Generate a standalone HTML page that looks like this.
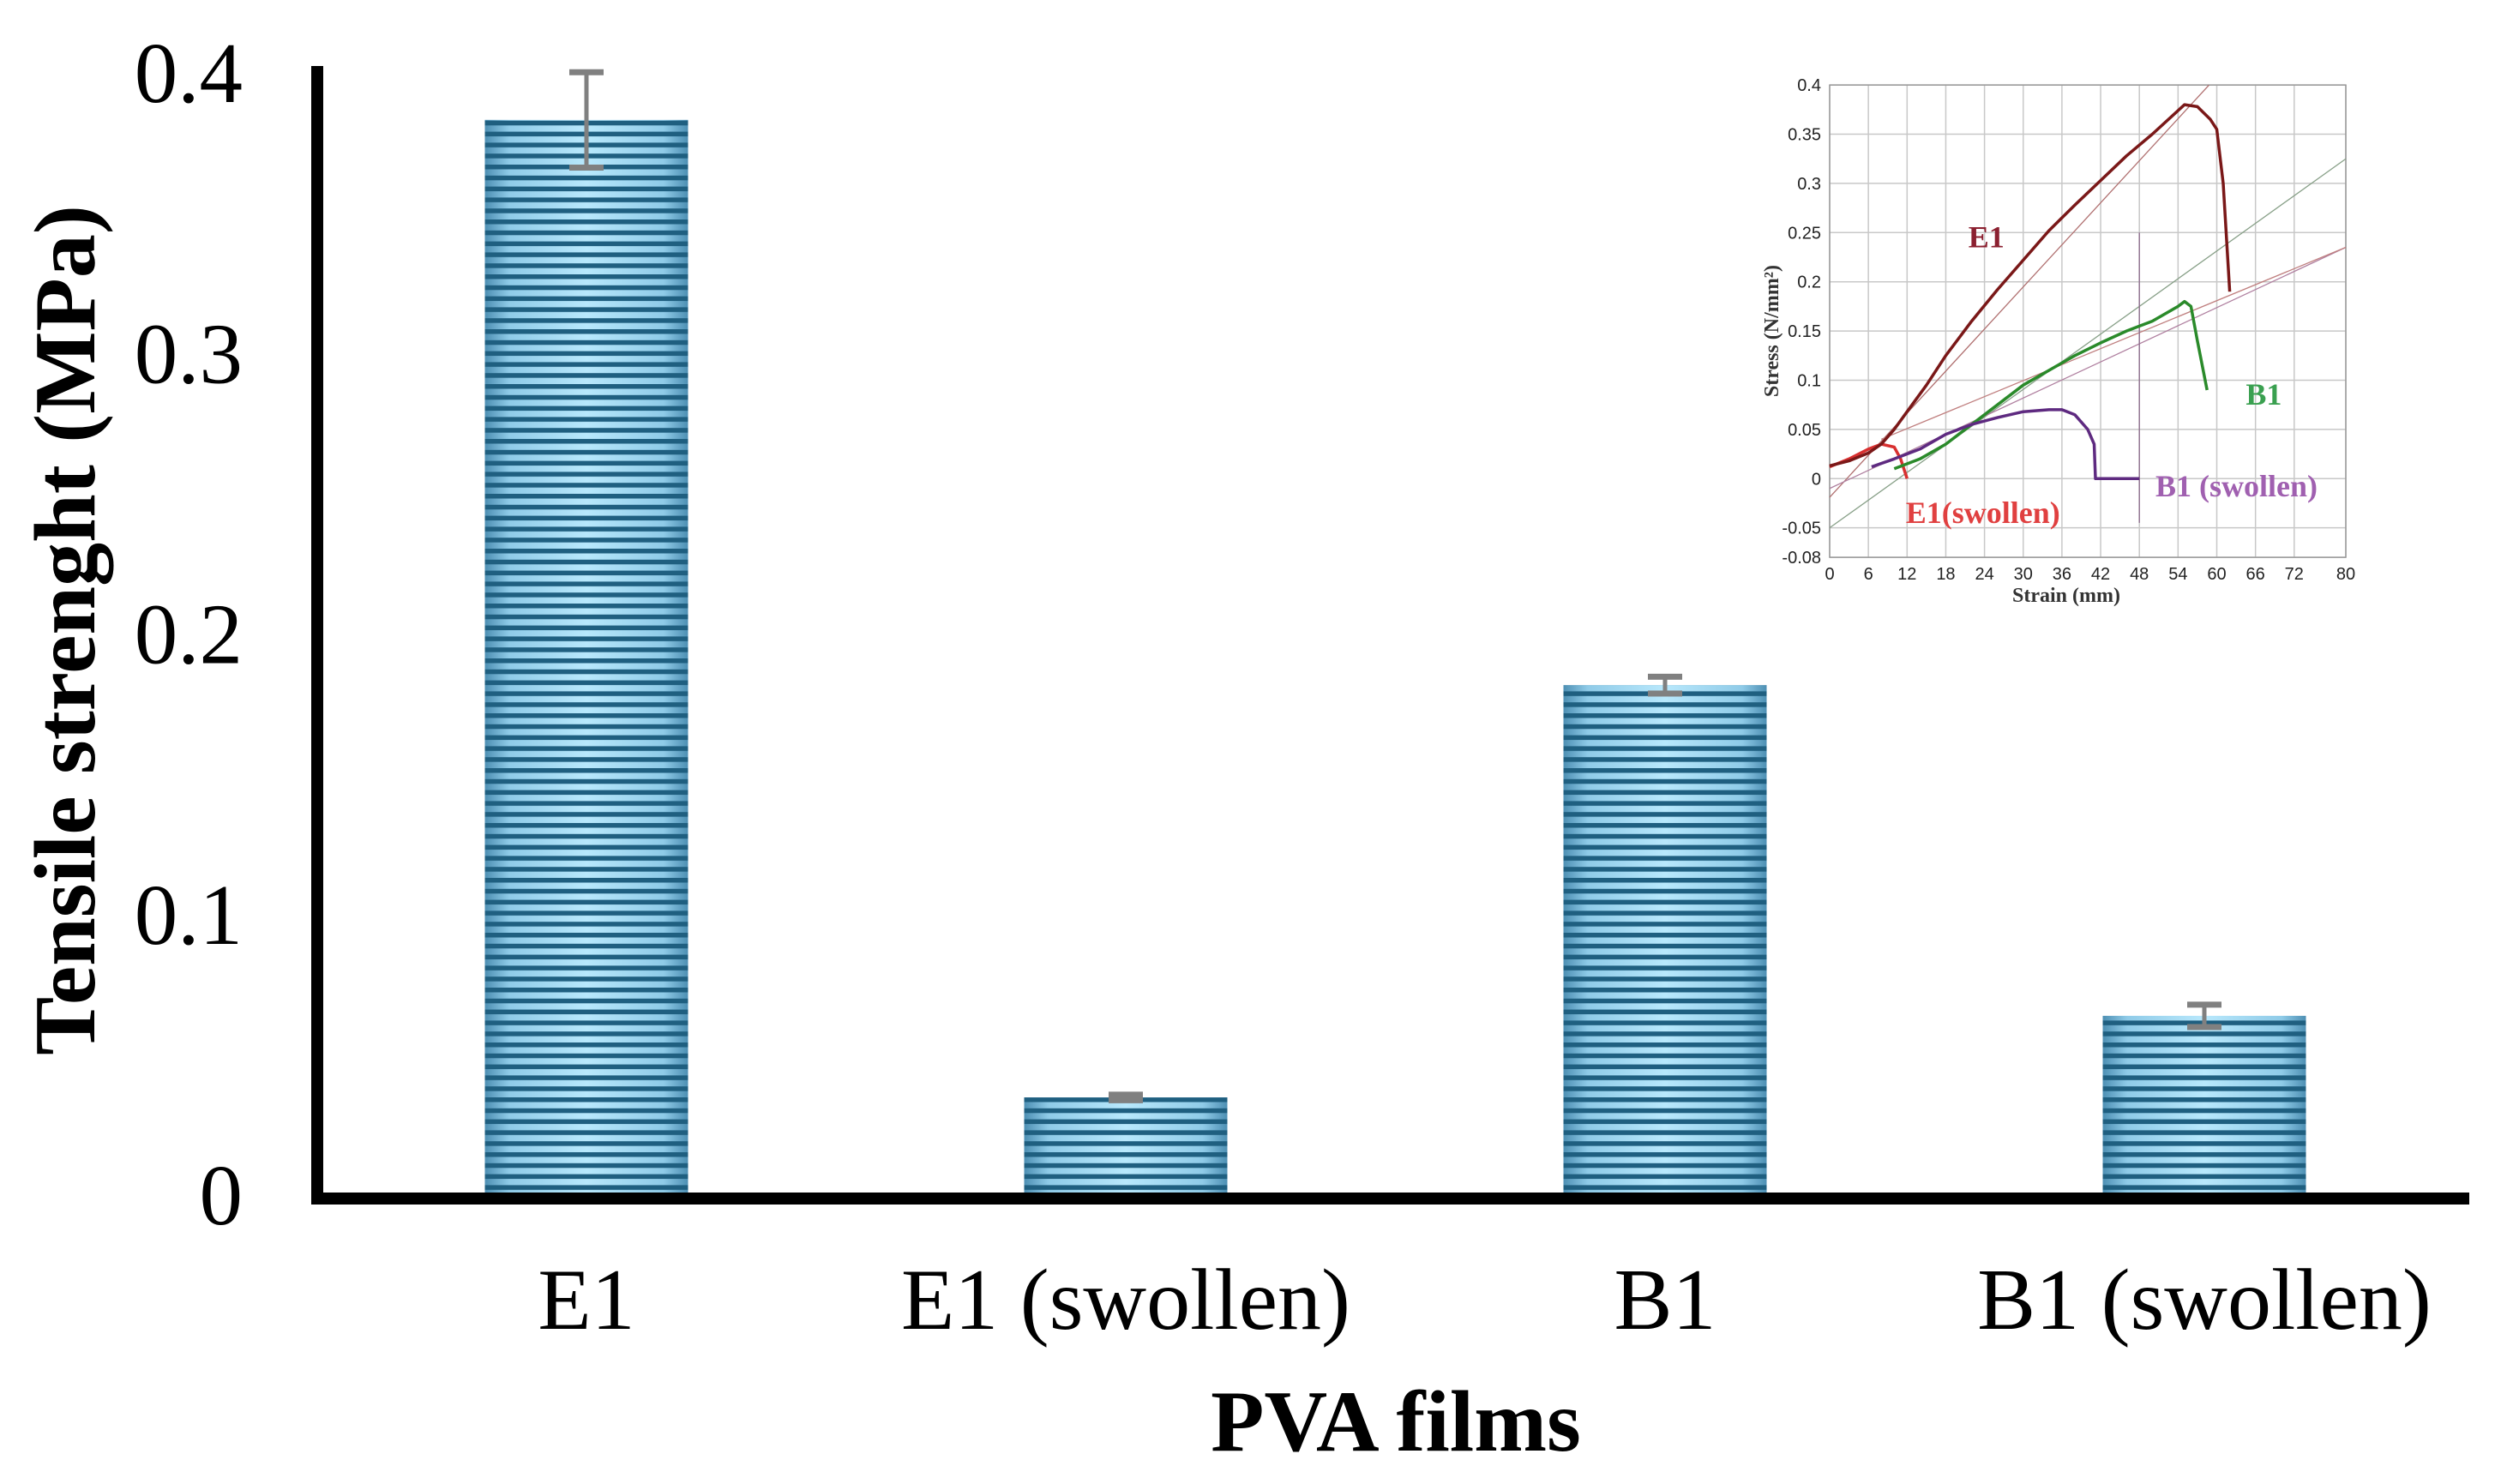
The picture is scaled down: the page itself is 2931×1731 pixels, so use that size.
<!DOCTYPE html>
<html><head><meta charset="utf-8"><style>
html,body{margin:0;padding:0;background:#fff;}
svg{display:block;}
</style></head><body>
<svg id="chart" width="2931" height="1731" viewBox="0 0 2931 1731" xmlns="http://www.w3.org/2000/svg">
<defs>
<linearGradient id="barGrad" x1="0" y1="0" x2="1" y2="0">
<stop offset="0" stop-color="#4d8fb3"/><stop offset="0.12" stop-color="#8fcbe8"/>
<stop offset="0.5" stop-color="#b8e8fc"/><stop offset="0.88" stop-color="#8fcbe8"/><stop offset="1" stop-color="#4d8fb3"/>
</linearGradient>
<pattern id="stripes" patternUnits="userSpaceOnUse" width="20" height="12.8" y="0">
<rect x="0" y="0" width="20" height="5.5" fill="#1f5f80"/>
</pattern>
</defs>
<g id="main"></g>
<g id="inset"></g>
</svg>
<script>
const categories = ["E1", "E1 (swollen)", "B1", "B1 (swollen)"];
const values = [0.383, 0.0345, 0.1815, 0.0636];
const errors = [0.017, 0.001, 0.003, 0.004];
const yTicks = [0, 0.1, 0.2, 0.3, 0.4];
const yTickLabels = ["0", "0.1", "0.2", "0.3", "0.4"];

const insetXTicks = [0,6,12,18,24,30,36,42,48,54,60,66,72,80];
const insetYTicks = [0.4,0.35,0.3,0.25,0.2,0.15,0.1,0.05,0,-0.05,-0.08];
const insetYTickLabels = ["0.4","0.35","0.3","0.25","0.2","0.15","0.1","0.05","0","-0.05","-0.08"];
const e1Strain = [0,3,6,8,10,12,15,18,22,26,30,34,38,42,46,50,54,55,57,59,60,61,62];
const e1Stress = [0.013,0.018,0.026,0.035,0.05,0.068,0.095,0.125,0.16,0.192,0.222,0.252,0.278,0.303,0.328,0.35,0.374,0.38,0.378,0.365,0.355,0.3,0.19];
const e1sStrain = [0,3,6,8,10,11,12];
const e1sStress = [0.012,0.02,0.03,0.035,0.032,0.02,0.0];
const b1Strain = [10,14,18,22,26,30,34,38,42,46,50,54,55,56,57,58.5];
const b1Stress = [0.01,0.02,0.035,0.055,0.075,0.095,0.11,0.125,0.138,0.15,0.16,0.175,0.18,0.175,0.14,0.09];
const b1sStrain = [6.5,10,14,18,22,26,30,34,36,38,40,41,41.2,48];
const b1sStress = [0.012,0.02,0.03,0.045,0.055,0.062,0.068,0.07,0.07,0.065,0.05,0.035,0,0];

const NS = "http://www.w3.org/2000/svg";
function mk(tag, attrs, parent, text){const e=document.createElementNS(NS,tag);for(const k in attrs)e.setAttribute(k,attrs[k]);if(text!==undefined)e.textContent=text;parent.appendChild(e);return e;}

const main = document.getElementById('main');
const y0 = 1393, yPer = 3272;
function yScale(v){return y0 - v*yPer;}
const catStep = 629, firstCenter = 684, barW = 237;
function xScale(i){return firstCenter + i*catStep;}

for (let i=0;i<categories.length;i++){
  const top = yScale(values[i]);
  const b = mk('rect',{x:xScale(i)-barW/2,y:top,width:barW,height:y0-top,fill:'url(#barGrad)'},main);
  
  
  const s = mk('rect',{x:xScale(i)-barW/2,y:top,width:barW,height:y0-top,fill:'url(#stripes)'},main);
  
  
  const eb = mk('g',{stroke:'#808080','stroke-width':5},main);
  
  
  const et = yScale(values[i]+errors[i]), ebt = yScale(values[i]-errors[i]);
  mk('line',{x1:xScale(i),x2:xScale(i),y1:et,y2:ebt},eb);
  mk('line',{x1:xScale(i)-20,x2:xScale(i)+20,y1:et,y2:et,'stroke-width':7},eb);
  mk('line',{x1:xScale(i)-20,x2:xScale(i)+20,y1:ebt,y2:ebt,'stroke-width':7},eb);
  const t = mk('text',{x:xScale(i),y:1550,'text-anchor':'middle','font-family':'Liberation Serif, serif','font-size':102,fill:'#000'},main,categories[i]);
  
  
}
const ya = mk('rect',{x:363,y:77,width:14,height:y0+12-77,fill:'#000'},main);


const xa = mk('rect',{x:363,y:y0-2,width:2880-363,height:14,fill:'#000'},main);


for (let i=0;i<yTicks.length;i++){
  const t = mk('text',{x:283,y:yScale(yTicks[i])+35,'text-anchor':'end','font-family':'Liberation Serif, serif','font-size':101,fill:'#000'},main,yTickLabels[i]);
  
  
}
const xt = mk('text',{x:1628,y:1692,'text-anchor':'middle','font-family':'Liberation Serif, serif','font-size':102,'font-weight':'bold',fill:'#000'},main,'PVA films');


const yt = mk('text',{x:0,y:0,transform:'translate(110,735) rotate(-90)','text-anchor':'middle','font-family':'Liberation Serif, serif','font-size':102,'font-weight':'bold',fill:'#000'},main,'Tensile strenght (MPa)');



const inset = document.getElementById('inset');
const ix0 = 2134, ix1 = 2736;
function ixs(v){return ix0 + v/80*(ix1-ix0);}
function iys(v){return 60 + (90 + (0.4-v)*2640)/2.3;}
const grid = mk('g',{stroke:'#c8c8c8','stroke-width':1.5},inset);


for (const v of insetXTicks){ mk('line',{x1:ixs(v),x2:ixs(v),y1:iys(0.4),y2:iys(-0.08)},grid); }
for (const v of insetYTicks){ mk('line',{x1:ix0,x2:ix1,y1:iys(v),y2:iys(v)},grid); }
mk('rect',{x:ix0,y:iys(0.4),width:ix1-ix0,height:iys(-0.08)-iys(0.4),fill:'none',stroke:'#999','stroke-width':1.5},inset);
for (const v of insetXTicks){
  const t = mk('text',{x:ixs(v),y:iys(-0.08)+26,'text-anchor':'middle','font-family':'Liberation Sans, sans-serif','font-size':20,fill:'#222'},inset,String(v));
  
  
}
for (let i=0;i<insetYTicks.length;i++){
  const t = mk('text',{x:ix0-10,y:iys(insetYTicks[i])+7,'text-anchor':'end','font-family':'Liberation Sans, sans-serif','font-size':20,fill:'#222'},inset,insetYTickLabels[i]);
  
  
}
const ixt = mk('text',{x:(ix0+ix1)/2-25,y:iys(-0.08)+52,'text-anchor':'middle','font-family':'Liberation Serif, serif','font-size':24,'font-weight':'bold',fill:'#333'},inset,'Strain (mm)');


const iyt = mk('text',{x:0,y:0,transform:'translate('+(ix0-60)+','+iys(0.15)+') rotate(-90)','text-anchor':'middle','font-family':'Liberation Serif, serif','font-size':24,'font-weight':'bold',fill:'#333'},inset,'Stress (N/mm²)');



function fitLine(xa,ya,xb,yb,color,name){
  const l = mk('line',{x1:ixs(xa),y1:iys(ya),x2:ixs(xb),y2:iys(yb),stroke:color,'stroke-width':1.3},inset);
  
  
}
fitLine(0,-0.019,58.8,0.4,'#b07070','inset-fit-e1');
fitLine(0,-0.05,80,0.325,'#88a088','inset-fit-b1');
fitLine(0,-0.01,80,0.235,'#b080a0','inset-fit-b1-swollen');
fitLine(8,0.04,80,0.235,'#c08080','inset-fit-e1-swollen');
fitLine(48,0.25,48,-0.045,'#8a6a8a','inset-break-line');

function series(xs,ys,color,name){
  const pts = xs.map((x,i)=>ixs(x).toFixed(1)+','+iys(ys[i]).toFixed(1)).join(' ');
  const p = mk('polyline',{points:pts,fill:'none',stroke:color,'stroke-width':3.5,'stroke-linejoin':'round'},inset);
  
  
}
series(e1sStrain,e1sStress,'#d83030','inset-series-e1-swollen');
series(b1Strain,b1Stress,'#2a8a2a','inset-series-b1');
series(b1sStrain,b1sStress,'#5e2a80','inset-series-b1-swollen');
series(e1Strain,e1Stress,'#7a1818','inset-series-e1');

function lbl(x,y,txt,color,name){
  const t = mk('text',{x:ixs(x),y:iys(y),'font-family':'Liberation Serif, serif','font-size':36,'font-weight':'bold',fill:color},inset,txt);
  
  
}
lbl(21.5,0.235,'E1','#8b2030','inset-label-e1');
lbl(64.5,0.075,'B1','#3aa050','inset-label-b1');
lbl(50.5,-0.018,'B1 (swollen)','#a060b0','inset-label-b1-swollen');
lbl(11.8,-0.045,'E1(swollen)','#e04040','inset-label-e1-swollen');
</script>
</body></html>
